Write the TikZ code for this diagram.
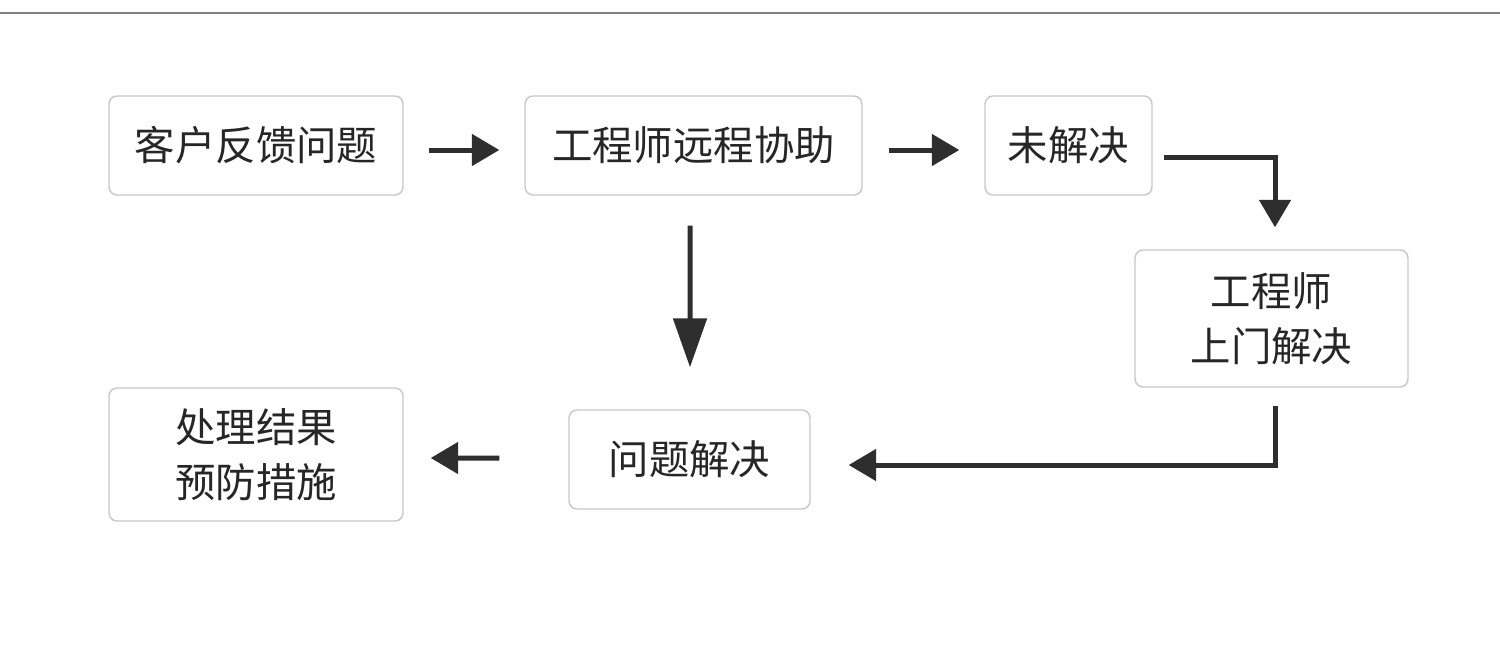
\documentclass[tikz,border=0pt]{standalone}
\usepackage{fontspec}
\setmainfont{Noto Sans CJK SC}
\usetikzlibrary{arrows.meta}

\begin{document}
\begin{tikzpicture}[x=0.02cm, y=-0.02cm, >={Triangle[length=0.55cm, width=0.62cm]},
  boite/.style={draw=black!22, rounded corners=0.16cm, line width=0.8pt, align=center,
    font=\fontsize{23pt}{31pt}\selectfont, text=black!85, inner sep=0pt},
  fleche/.style={->, line width=0.1cm, draw=black!82}]

\useasboundingbox (0,0) rectangle (1500,646);

% La ligne du haut
\draw[black!50, line width=1.2pt] (0,13) -- (1500,13);

% Les boîtes
\node[boite, minimum width=5.88cm, minimum height=1.98cm] (client) at (256,145.5) {客户反馈问题};
\node[boite, minimum width=6.74cm, minimum height=1.98cm] (assist) at (693.5,145.5) {工程师远程协助};
\node[boite, minimum width=3.34cm, minimum height=1.98cm] (nonres) at (1068.5,145.5) {未解决};
\node[boite, minimum width=5.46cm, minimum height=2.74cm] (ingenieur) at (1271.5,318.5) {工程师\\上门解决};
\node[boite, minimum width=4.82cm, minimum height=1.98cm] (resolu) at (689.5,459.5) {问题解决};
\node[boite, minimum width=5.88cm, minimum height=2.66cm] (mesures) at (256,454.5) {处理结果\\预防措施};

% Les flèches
\draw[fleche] ([xshift=0.5cm, yshift=-0.09cm]client.east) -- ([xshift=-0.5cm, yshift=-0.09cm]assist.west);
\draw[fleche] ([xshift=0.52cm, yshift=-0.09cm]assist.east) -- ([xshift=-0.5cm, yshift=-0.09cm]nonres.west);
\draw[fleche] ([xshift=0.22cm, yshift=-0.23cm]nonres.east) -| ([xshift=0.07cm, yshift=0.44cm]ingenieur.north);
\draw[fleche, >={Triangle[length=0.98cm, width=0.66cm]}] ([xshift=-0.07cm, yshift=-0.6cm]assist.south) -- ([xshift=0.01cm, yshift=0.84cm]resolu.north);
\draw[fleche] ([xshift=0.07cm, yshift=-0.36cm]ingenieur.south) |- ([xshift=0.76cm, yshift=-0.11cm]resolu.east);
\draw[fleche] ([xshift=-1.38cm, yshift=0.03cm]resolu.west) -- ([xshift=0.54cm, yshift=-0.07cm]mesures.east);

\end{tikzpicture}
\end{document}
